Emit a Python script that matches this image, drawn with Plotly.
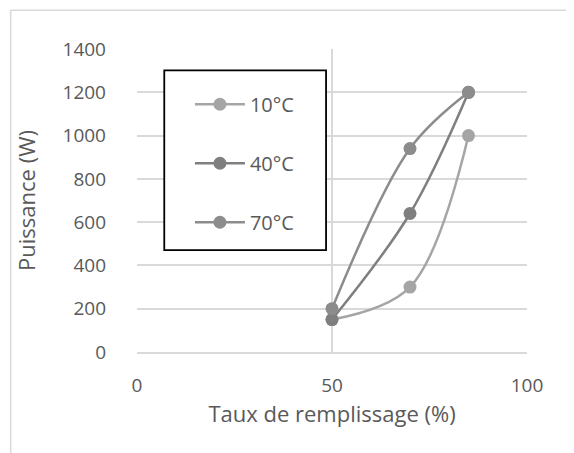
import plotly.graph_objects as go

x_fill = [50, 70, 85]
series_names = ["10°C", "40°C", "70°C"]
y_10 = [150, 300, 1000]
y_40 = [150, 640, 1200]
y_70 = [200, 940, 1200]
colors = ["#A5A5A5", "#7F7F7F", "#8C8C8C"]
x_ticks = [0, 50, 100]
y_ticks = [0, 200, 400, 600, 800, 1000, 1200, 1400]

OFF = 8  # page body margin
W, H = 566, 445
L, T = 137 - OFF, 49.3 - OFF
R = W - (527.5 - OFF)
B = H - (352 - OFF)
pw, ph = W - L - R, H - T - B

def px(xs):
    return (xs - OFF - L) / pw

def py(ys):
    return (H - B - (ys - OFF)) / ph

FONT = "Open Sans"
TXT = "#595959"

fig = go.Figure()
for name, ys, c in zip(series_names, [y_10, y_40, y_70], colors):
    fig.add_trace(go.Scatter(
        x=x_fill, y=ys, name=name, mode="lines+markers",
        line=dict(color=c, width=2.5, shape="spline", smoothing=1),
        marker=dict(color=c, size=13),
        legendgroup=name,
    ))

fig.update_layout(
    width=W, height=H,
    margin=dict(l=L, r=R, t=T, b=B),
    paper_bgcolor="white", plot_bgcolor="white",
    font=dict(family=FONT, size=19, color=TXT),
    showlegend=True,
    legend=dict(
        x=px(190), y=py(85), xanchor="left", yanchor="top",
        bgcolor="rgba(0,0,0,0)", borderwidth=0,
        font=dict(family=FONT, size=20, color=TXT),
        tracegroupgap=30, itemwidth=50,
    ),
    xaxis=dict(
        range=[0, 100], tickvals=x_ticks, showgrid=True,
        gridcolor="#D9D9D9", gridwidth=1.5, zeroline=False,
        showline=True, linecolor="#D9D9D9", linewidth=1.5,
        ticks="", ticklabelstandoff=15,
        title=dict(text="Taux de remplissage (%)", standoff=9,
                   font=dict(family=FONT, size=22, color=TXT)),
        tickfont=dict(family=FONT, size=19, color=TXT),
    ),
    yaxis=dict(
        range=[0, 1400], tickvals=y_ticks, showgrid=True,
        gridcolor="#D9D9D9", gridwidth=1.5, zeroline=False,
        showline=False, ticks="", ticklabelstandoff=30,
        title=dict(text="Puissance (W)", standoff=20,
                   font=dict(family=FONT, size=22, color=TXT)),
        tickfont=dict(family=FONT, size=19, color=TXT),
    ),
    shapes=[
        dict(type="rect", xref="paper", yref="paper",
             x0=px(164.3), x1=px(326.3), y0=py(250.3), y1=py(70.7),
             line=dict(color="black", width=1.8), fillcolor="white",
             layer="above"),
        dict(type="line", xref="paper", yref="paper",
             x0=px(10.5), x1=px(10.5), y0=py(10.5), y1=py(470),
             line=dict(color="#D9D9D9", width=1.5)),
        dict(type="line", xref="paper", yref="paper",
             x0=px(10.5), x1=px(600), y0=py(10.5), y1=py(10.5),
             line=dict(color="#D9D9D9", width=1.5)),
    ],
)

fig.write_html("out.html")
